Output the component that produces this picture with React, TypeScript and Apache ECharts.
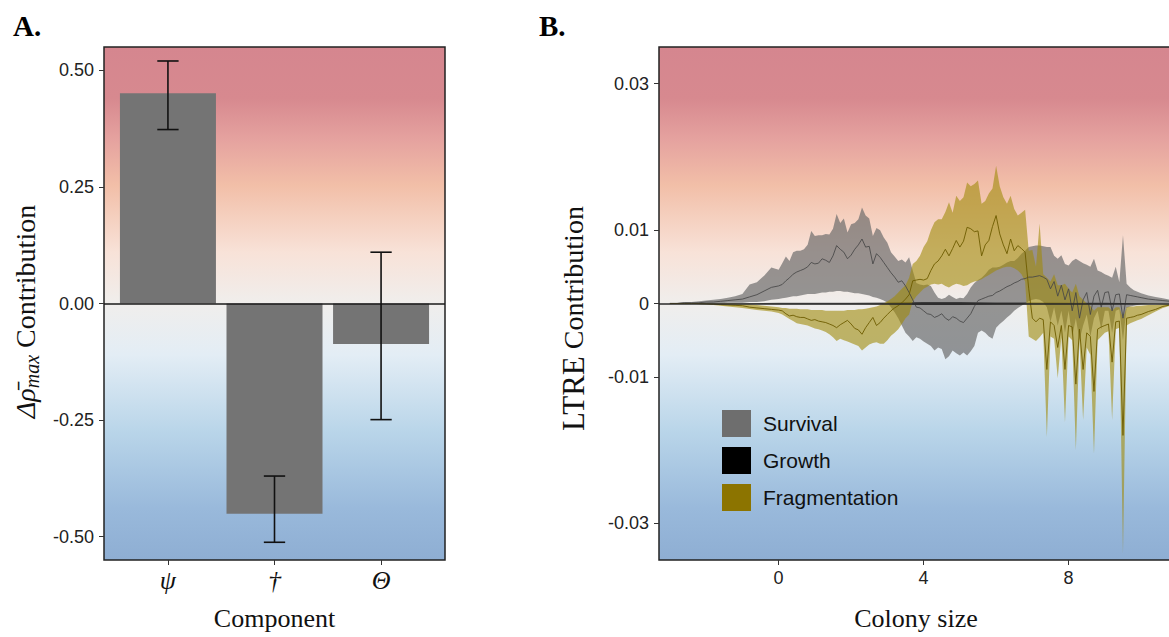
import React, { useEffect, useRef } from 'react';
import * as echarts from 'echarts';

// ---------- Panel A data ----------
const componentLabels = ['ψ', '†', 'Θ'];
const componentPos = [1, 2, 3];
const contribution = [0.451, -0.451, -0.087];
const ciLow = [0.373, -0.512, -0.249];
const ciHigh = [0.52, -0.37, 0.11];
const yTicksA = [-0.5, -0.25, 0, 0.25, 0.5];
const yTickLabelsA = ['-0.50', '-0.25', '0.00', '0.25', '0.50'];

// ---------- Panel B data (LTRE contribution in units of 0.001) ----------
const colonySize = [
  -3.0, -2.8, -2.6, -2.4, -2.2, -2.0, -1.8, -1.6, -1.4, -1.2, -1.0, -0.8, -0.6, -0.4, -0.2,
  0.0, 0.1, 0.2, 0.3, 0.4, 0.5, 0.6, 0.7, 0.8, 0.9,
  1.0, 1.1, 1.2, 1.3, 1.4, 1.5, 1.6, 1.7, 1.8, 1.9,
  2.0, 2.1, 2.2, 2.3, 2.4, 2.5, 2.6, 2.7, 2.8, 2.9,
  3.0, 3.1, 3.2, 3.3, 3.4, 3.5, 3.6, 3.7, 3.8, 3.9,
  4.0, 4.1, 4.2, 4.3, 4.4, 4.5, 4.6, 4.7, 4.8, 4.9,
  5.0, 5.1, 5.2, 5.3, 5.4, 5.5, 5.6, 5.7, 5.8, 5.9,
  6.0, 6.1, 6.2, 6.3, 6.4, 6.5, 6.6, 6.7, 6.8, 6.9,
  7.0, 7.1, 7.2, 7.3, 7.4, 7.5, 7.6, 7.7, 7.8, 7.9,
  8.0, 8.1, 8.2, 8.3, 8.4, 8.5, 8.6, 8.7, 8.8, 8.9,
  9.0, 9.1, 9.2, 9.3, 9.4, 9.5, 9.6, 9.7, 9.8, 9.9,
  10.0, 10.2, 10.4, 10.6, 10.8,
];

const survivalUpper = [
  0.1, 0.1, 0.2, 0.2, 0.3, 0.4, 0.5, 0.6, 0.8, 1.0, 1.3, 2.6, 2.9, 3.8, 4.9,
  4.6, 5.5, 6.4, 5.8, 7.0, 7.2, 7.2, 7.4, 8.0, 9.9,
  9.2, 9.3, 9.3, 9.5, 9.4, 10.2, 12.2, 11.0, 11.6, 9.7,
  10.8, 11.0, 11.5, 13.1, 12.0, 11.6, 9.2, 10.3, 10.0, 9.0,
  8.3, 7.0, 6.4, 5.8, 6.0, 5.6, 6.3, 4.5, 2.8, 2.6,
  2.5, 2.6, 2.4, 1.5, 0.8, 0.6, 0.8, 1.2, 0.9, 0.6,
  0.8, 0.7, 1.3, 2.2, 2.8, 3.2, 3.5, 4.0, 4.6, 4.9,
  4.9, 5.0, 5.3, 5.6, 5.8, 5.8, 6.2, 6.8, 7.2, 7.7,
  7.8, 7.9, 7.9, 7.8, 7.7, 7.7, 6.5, 6.1, 6.6, 5.4,
  5.2, 5.8, 6.1, 5.8, 5.5, 5.3, 5.0, 6.1, 4.5, 4.3,
  4.0, 3.8, 3.5, 5.0, 2.9, 9.3, 2.7, 2.2, 1.8, 1.6,
  1.4, 1.1, 0.9, 0.7, 0.5,
];
const survivalMean = [
  0, 0, 0.1, 0.1, 0.1, 0.2, 0.2, 0.3, 0.4, 0.5, 0.6, 0.9, 1.2, 1.7, 2.2,
  2.4, 2.6, 3.1, 3.5, 4.0, 4.3, 4.5, 4.7, 5.0, 5.6,
  5.4, 5.5, 6.1, 5.9, 5.6, 6.5, 7.9, 7.4, 7.0, 6.1,
  6.6, 7.4, 8.0, 8.8, 7.7, 7.8, 5.4, 6.8, 6.3, 5.6,
  4.9, 4.2, 3.6, 2.9, 3.1, 2.4, 1.5, 0.5, -0.5, -0.6,
  -1.0, -1.4, -1.5, -1.9, -1.7, -1.4, -2.0, -2.3, -1.8, -2.0,
  -2.4, -2.6, -2.0, -1.4, -0.4, 0.4, 0.6, 0.8, 1.0, 1.1,
  1.5, 1.7, 2.0, 2.3, 2.5, 2.8, 3.0, 3.3, 3.4, 3.6,
  3.6, 3.7, 3.8, 3.6, 3.3, 2.0, 3.0, 1.0, 2.5, 0.5,
  2.0, -1.0, 1.5, -2.0, 0.5, 1.5, -1.5, 1.0, 1.8, -0.5,
  1.5, 1.6, -1.0, 1.2, 1.3, -2.0, 1.2, 1.1, 1.0, 0.9,
  0.8, 0.6, 0.5, 0.4, 0.3,
];
const survivalLower = [
  0, 0, 0, 0, 0, 0, 0, 0.05, 0.1, 0.1, 0.1, 0.2, 0.2, 0.3, 0.5,
  0.6, 0.7, 0.8, 0.9, 1.0, 1.0, 1.1, 1.2, 1.3, 1.3,
  1.3, 1.4, 1.5, 1.5, 1.6, 1.6, 1.7, 1.7, 1.6, 1.6,
  1.5, 1.4, 1.4, 1.3, 1.2, 1.1, 0.9, 0.8, 0.6, 0.4,
  0.1, -0.5, -1.2, -2.0, -3.0, -4.0, -4.5, -5.1, -4.6, -4.8,
  -5.2, -5.5, -5.8, -6.4, -6.0, -6.2, -7.6, -7.2, -6.4, -6.8,
  -7.1, -6.7, -7.1, -6.5, -5.8, -4.0, -3.7, -4.0, -4.5, -4.8,
  -3.3, -2.8, -2.4, -1.9, -1.5, -1.0, -0.6, -0.3, 0.0, 0.3,
  0.5, 0.6, 0.5, 0.2, -0.5, -2.5, -0.5, -3.0, -1.0, -4.0,
  -1.0, -4.5, -2.0, -5.0, -3.0, -1.5, -4.5, -2.0, -1.0, -3.5,
  -1.0, -1.0, -4.0, -1.0, -0.8, -5.0, -0.6, -0.4, -0.3, -0.2,
  -0.1, 0.0, 0.0, 0.0, 0.0,
];

const fragmentationUpper = [
  0, 0, 0, 0, 0, 0, 0, 0, 0, 0, -0.1, -0.1, -0.2, -0.3, -0.4,
  -0.5, -0.6, -0.6, -0.7, -0.7, -0.7, -0.8, -0.8, -0.8, -0.9,
  -0.9, -0.9, -0.9, -1.0, -1.0, -1.0, -1.0, -1.0, -1.0, -0.9,
  -0.9, -0.9, -0.8, -0.8, -0.7, -0.6, -0.5, -0.4, -0.2, 0.0,
  0.3, 0.6, 1.0, 1.5, 2.0, 2.5, 3.5, 5.4, 5.8, 6.5,
  7.7, 8.5, 10.0, 11.1, 11.5, 11.5, 12.5, 13.8, 12.4, 14.7,
  14.0, 14.5, 16.5, 16.0, 16.3, 16.8, 13.6, 14.0, 15.0, 15.7,
  18.8, 16.0, 14.5, 13.6, 14.7, 12.9, 12.0, 12.4, 12.8, 7.2,
  7.3, 5.0, 10.9, 4.0, 3.5, 3.0, 4.0, 2.5, 2.5, 2.7,
  2.0, 1.5, 2.7, 1.0, 0.5, 0.0, -0.3, -1.0, -0.5, -0.5,
  -0.5, -0.5, -1.0, -0.5, -0.5, -2.0, -0.5, -0.4, -0.4, -0.3,
  -0.3, -0.2, -0.2, -0.1, -0.1,
];
const fragmentationMean = [
  0, 0, 0, 0, 0, -0.05, -0.1, -0.15, -0.2, -0.25, -0.3, -0.5, -0.6, -0.7, -0.8,
  -0.9, -1.0, -1.4, -1.7, -1.6, -1.8, -1.9, -1.9, -2.1, -2.3,
  -2.2, -2.4, -2.5, -2.6, -2.8, -3.0, -3.3, -2.9, -2.6, -2.3,
  -2.8, -3.4, -3.6, -4.2, -3.3, -2.6, -1.9, -3.0, -2.6, -2.0,
  -1.5, -1.0, -0.6, -0.3, 0.1, 0.6, 1.2, 3.1, 3.2, 3.3,
  3.2, 3.4, 4.5, 5.4, 5.8, 6.5, 7.4, 6.5, 7.5, 8.6,
  7.7, 8.5, 10.4, 10.2, 9.8, 9.9, 6.5, 8.0, 8.6, 10.5,
  12.0, 9.5, 8.0, 6.8, 8.8, 7.2, 7.9, 7.5, 7.0, 2.0,
  -2.0, -2.5, -2.0, -2.2, -9.0, -2.5, -3.0, -6.0, -3.0, -9.0,
  -3.0, -3.2, -11.0, -3.5, -9.0, -4.0, -4.5, -12.0, -3.5, -3.2,
  -3.0, -2.8, -8.0, -2.5, -2.4, -18.0, -2.0, -1.9, -1.8, -1.6,
  -1.5, -1.1, -0.8, -0.4, -0.2,
];
const fragmentationLower = [
  0, 0, 0, 0, -0.1, -0.1, -0.2, -0.3, -0.4, -0.5, -0.6, -0.75, -0.9, -1.0, -1.1,
  -1.3, -1.5, -1.8, -2.1, -2.4, -2.7, -2.8, -2.9, -3.0, -3.2,
  -3.4, -3.5, -3.7, -3.9, -4.2, -4.6, -5.1, -4.8, -5.0, -5.2,
  -5.4, -5.6, -5.8, -6.4, -6.0, -5.6, -5.4, -5.3, -5.5, -5.5,
  -5.0, -4.4, -4.0, -3.5, -2.8, -2.0, -1.5, 0.3, 1.0, 1.5,
  2.0, 2.3, 2.6, 2.7, 2.6, 2.7, 2.4, 2.2, 2.5, 2.7,
  2.6, 2.4, 2.5, 2.8, 3.0, 3.1, 3.3, 3.6, 3.9, 4.2,
  4.5, 4.7, 4.9, 5.0, 5.0, 4.8, 4.5, 4.0, 3.0, -4.5,
  -4.8, -5.1, -4.6, -4.0, -18.2, -4.5, -4.8, -10.2, -4.6, -16.2,
  -4.5, -5.0, -20.0, -5.0, -15.9, -6.0, -7.0, -20.5, -5.0, -4.5,
  -4.0, -3.8, -15.9, -3.5, -3.3, -34.1, -3.0, -2.7, -2.5, -2.3,
  -2.1, -1.6, -1.1, -0.6, -0.3,
];

const growthSize = [-3.0, -2.0, -1.0, 0.0, 1.0, 2.0, 3.0, 4.0, 5.0, 6.0, 7.0, 8.0, 9.0, 10.0, 10.8];
const growthLower = [0, -0.05, -0.05, -0.1, -0.1, -0.1, -0.15, -0.2, -0.2, -0.15, -0.15, -0.1, -0.1, -0.05, 0];
const growthUpper = [0, 0.05, 0.05, 0.1, 0.1, 0.1, 0.15, 0.2, 0.2, 0.15, 0.15, 0.1, 0.1, 0.05, 0];

const yTicksB = [-30, -10, 0, 10, 30];
const yTickLabelsB = ['-0.03', '-0.01', '0', '0.01', '0.03'];
const xTicksB = [0, 4, 8];
const xTickLabelsB = ['0', '4', '8'];

const legendNames = ['Survival', 'Growth', 'Fragmentation'];
const legendColors = ['#6e6e6e', '#000000', '#8c7400'];

// ---------- styling ----------
const SERIF = '"Liberation Serif", "Times New Roman", Times, serif';
const SANS = '"Liberation Sans", Arial, Helvetica, sans-serif';

const bg = () =>
  new echarts.graphic.LinearGradient(0, 0, 0, 1, [
    { offset: 0, color: '#d5868f' },
    { offset: 0.1, color: '#d7898f' },
    { offset: 0.18, color: '#e5a29f' },
    { offset: 0.27, color: '#f2bfa8' },
    { offset: 0.4, color: '#f8e2d8' },
    { offset: 0.5, color: '#f0eeec' },
    { offset: 0.6, color: '#e3edf5' },
    { offset: 0.75, color: '#b9d5e9' },
    { offset: 0.9, color: '#99b9db' },
    { offset: 1, color: '#8eaed3' },
  ]);

const lookup = (vals: number[], labels: string[]) => (v: number) => {
  const i = vals.findIndex((t) => Math.abs(t - v) < 1e-9);
  return i >= 0 ? labels[i] : '';
};

// Ribbon drawn as one polygon: upper edge forward, lower edge backward (via api.coord)
function ribbon(name: string, xs: number[], lower: number[], upper: number[], fill: string) {
  return {
    name,
    type: 'custom',
    xAxisIndex: 1,
    yAxisIndex: 1,
    silent: true,
    itemStyle: { color: fill },
    encode: { x: 0, y: [1, 2] },
    data: xs.map((x, i) => [x, lower[i], upper[i]]),
    renderItem: (params: any, api: any) => {
      if (params.dataIndex !== 0) return null;
      const top = xs.map((x, i) => api.coord([x, upper[i]]));
      const bottom = xs.map((x, i) => api.coord([x, lower[i]])).reverse();
      return {
        type: 'polygon',
        shape: { points: top.concat(bottom) },
        style: { fill, stroke: null },
      };
    },
  };
}

function meanLine(name: string, xs: number[], ys: number[], color: string, extra: any = {}) {
  return {
    name,
    type: 'line',
    xAxisIndex: 1,
    yAxisIndex: 1,
    symbol: 'none',
    silent: true,
    lineStyle: { color, width: 1 },
    data: xs.map((x, i) => [x, ys[i]]),
    ...extra,
  };
}

function buildOption(): any {
  const tickLabelStyle = { fontFamily: SANS, fontSize: 18, color: '#222' };
  const tickStyle = { length: 5, lineStyle: { color: '#333' } };
  return {
    animation: false,
    backgroundColor: '#ffffff',
    title: [
      { text: 'A.', left: 13, top: 11, padding: 0, textStyle: { fontFamily: SERIF, fontWeight: 'bold', fontSize: 29, color: '#000' } },
      { text: 'B.', left: 539, top: 11, padding: 0, textStyle: { fontFamily: SERIF, fontWeight: 'bold', fontSize: 29, color: '#000' } },
    ],
    legend: {
      data: legendNames.map((n, i) => ({ name: n, itemStyle: { color: legendColors[i], opacity: 1 } })),
      orient: 'vertical',
      left: 722,
      top: 410,
      padding: 0,
      icon: 'rect',
      itemWidth: 29,
      itemHeight: 27,
      itemGap: 10,
      selectedMode: false,
      textStyle: { fontFamily: SANS, fontSize: 21, color: '#111', padding: [0, 0, 0, 7] },
    },
    grid: [
      {
        left: 104, top: 47, width: 341, height: 513,
        show: true, backgroundColor: bg(), borderColor: '#222', borderWidth: 1.5,
      },
      {
        left: 659, top: 47, width: 514, height: 513,
        show: true, backgroundColor: bg(), borderColor: '#222', borderWidth: 1.5,
      },
    ],
    xAxis: [
      {
        gridIndex: 0, type: 'value', min: 0.4, max: 3.6,
        splitLine: { show: false },
        axisLine: { show: false, onZero: false },
        axisTick: { show: true, customValues: componentPos, ...tickStyle },
        axisLabel: {
          customValues: componentPos,
          formatter: lookup(componentPos, componentLabels),
          fontFamily: SERIF, fontStyle: 'italic', fontSize: 26, color: '#111', margin: 7,
        },
        name: 'Component', nameLocation: 'middle', nameGap: 45,
        nameTextStyle: { fontFamily: SERIF, fontSize: 26, color: '#111' },
      },
      {
        gridIndex: 1, type: 'value', min: -3.3, max: 10.88,
        splitLine: { show: false },
        axisLine: { show: false, onZero: false },
        axisTick: { show: true, customValues: xTicksB, ...tickStyle },
        axisLabel: { customValues: xTicksB, formatter: lookup(xTicksB, xTickLabelsB), ...tickLabelStyle, margin: 9 },
        name: 'Colony size', nameLocation: 'middle', nameGap: 45,
        nameTextStyle: { fontFamily: SERIF, fontSize: 26, color: '#111' },
      },
    ],
    yAxis: [
      {
        gridIndex: 0, type: 'value', min: -0.55, max: 0.55,
        splitLine: { show: false },
        axisLine: { show: false, onZero: false },
        axisTick: { show: true, customValues: yTicksA, ...tickStyle },
        axisLabel: { customValues: yTicksA, formatter: lookup(yTicksA, yTickLabelsA), ...tickLabelStyle, margin: 10 },
        name: '{g|Δρ̄}{s|max}{c| Contribution}',
        nameLocation: 'middle', nameRotate: 90, nameGap: 62,
        nameTextStyle: {
          padding: [0, 16, 0, 0],
          rich: {
            g: { fontFamily: SERIF, fontStyle: 'italic', fontSize: 28, color: '#111', verticalAlign: 'middle' },
            s: { fontFamily: SERIF, fontStyle: 'italic', fontSize: 20, color: '#111', verticalAlign: 'bottom', padding: [14, 0, 0, 0] },
            c: { fontFamily: SERIF, fontSize: 28, color: '#111', verticalAlign: 'middle' },
          },
        },
      },
      {
        gridIndex: 1, type: 'value', min: -35, max: 35,
        splitLine: { show: false },
        axisLine: { show: false, onZero: false },
        axisTick: { show: true, customValues: yTicksB, ...tickStyle },
        axisLabel: { customValues: yTicksB, formatter: lookup(yTicksB, yTickLabelsB), ...tickLabelStyle, margin: 10 },
        name: '{l|LTRE}{c| Contribution}',
        nameLocation: 'middle', nameRotate: 90, nameGap: 70,
        nameTextStyle: {
          padding: [0, 30, 0, 0],
          rich: {
            l: { fontFamily: SERIF, fontSize: 31, color: '#111' },
            c: { fontFamily: SERIF, fontSize: 28, color: '#111' },
          },
        },
      },
    ],
    series: [
      {
        name: 'contribution',
        type: 'bar',
        xAxisIndex: 0,
        yAxisIndex: 0,
        barWidth: 96,
        silent: true,
        itemStyle: { color: '#747474' },
        data: componentPos.map((p, i) => [p, contribution[i]]),
        markLine: {
          silent: true,
          symbol: ['none', 'none'],
          label: { show: false },
          lineStyle: { color: '#1a1a1a', width: 1.5, type: 'solid' },
          data: [{ yAxis: 0 }],
        },
      },
      {
        name: 'ci',
        type: 'custom',
        xAxisIndex: 0,
        yAxisIndex: 0,
        silent: true,
        z: 5,
        encode: { x: 0, y: [1, 2] },
        data: componentPos.map((p, i) => [p, ciLow[i], ciHigh[i]]),
        renderItem: (params: any, api: any) => {
          const x = api.value(0);
          const lo = api.coord([x, api.value(1)]);
          const hi = api.coord([x, api.value(2)]);
          const half = api.size([0.1, 0])[0];
          const st = { stroke: '#111', lineWidth: 1.6 };
          return {
            type: 'group',
            children: [
              { type: 'line', shape: { x1: lo[0], y1: lo[1], x2: hi[0], y2: hi[1] }, style: st },
              { type: 'line', shape: { x1: lo[0] - half, y1: lo[1], x2: lo[0] + half, y2: lo[1] }, style: st },
              { type: 'line', shape: { x1: hi[0] - half, y1: hi[1], x2: hi[0] + half, y2: hi[1] }, style: st },
            ],
          };
        },
      },
      ribbon('Survival', colonySize, survivalLower, survivalUpper, 'rgba(105,105,105,0.68)'),
      meanLine('Survival mean', colonySize, survivalMean, 'rgba(70,70,70,0.85)'),
      ribbon('Growth', growthSize, growthLower, growthUpper, 'rgba(0,0,0,0.6)'),
      ribbon('Fragmentation', colonySize, fragmentationLower, fragmentationUpper, 'rgba(160,138,10,0.6)'),
      meanLine('Fragmentation mean', colonySize, fragmentationMean, 'rgba(110,92,0,0.9)', {
        markLine: {
          silent: true,
          symbol: ['none', 'none'],
          label: { show: false },
          lineStyle: { color: '#2a2a2a', width: 1.5, type: 'solid' },
          data: [{ yAxis: 0 }],
        },
      }),
    ],
  };
}

export default function App() {
  const ref = useRef<HTMLDivElement>(null);
  useEffect(() => {
    document.body.style.margin = '0';
    document.body.style.overflow = 'hidden';
    const chart = echarts.init(ref.current as HTMLDivElement, null, { renderer: 'svg' });
    chart.setOption(buildOption());
    return () => chart.dispose();
  }, []);
  return (
    <div
      ref={ref}
      style={{ position: 'fixed', left: 0, top: 0, width: 1180, height: 637, background: '#fff' }}
    />
  );
}
